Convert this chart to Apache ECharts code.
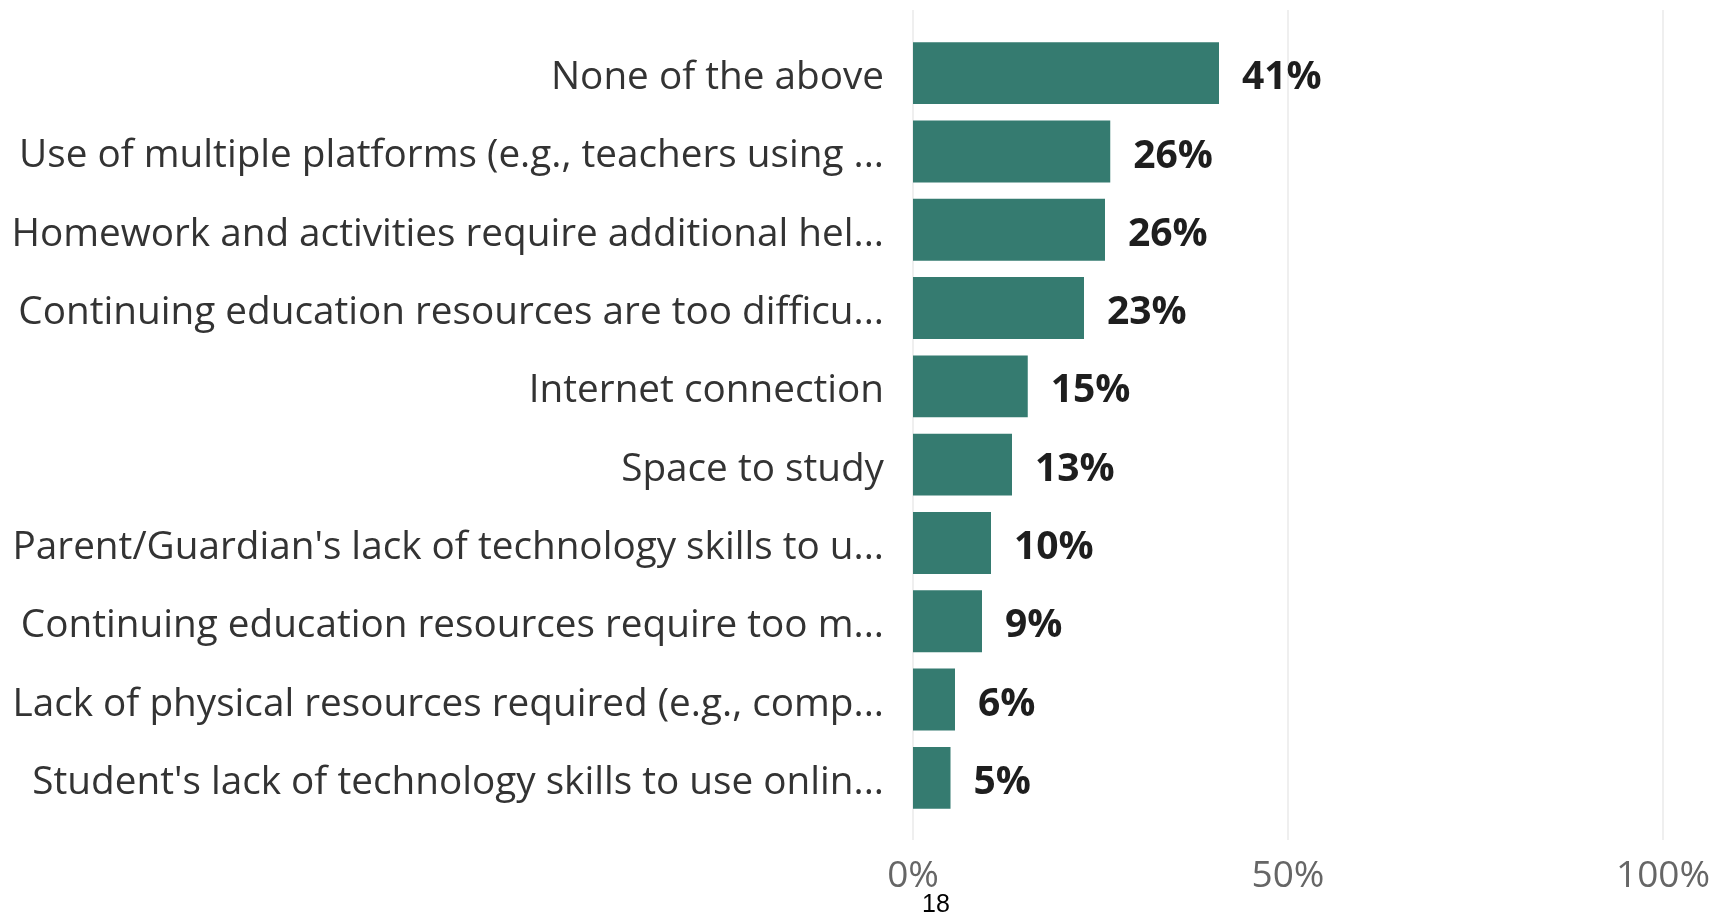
<!DOCTYPE html>
<html>
<head>
<meta charset="utf-8">
<script src="https://cdn.jsdelivr.net/npm/echarts@6/dist/echarts.min.js"></script>
<style>
html,body{margin:0;padding:0;background:#fff;}
#chart{width:1716px;height:913px;}
</style>
</head>
<body>
<div id="chart"></div>
<script>
const categories = [
  "None of the above",
  "Use of multiple platforms (e.g., teachers using ...",
  "Homework and activities require additional hel...",
  "Continuing education resources are too difficu...",
  "Internet connection",
  "Space to study",
  "Parent/Guardian's lack of technology skills to u...",
  "Continuing education resources require too m...",
  "Lack of physical resources required (e.g., comp...",
  "Student's lack of technology skills to use onlin..."
];
const values = [40.8, 26.3, 25.6, 22.8, 15.3, 13.2, 10.4, 9.2, 5.6, 5.0];
const xTicks = [0, 50, 100];
const pageNumber = "18";

const chart = echarts.init(document.getElementById('chart'), null, {renderer: 'canvas'});
const font = "'Open Sans', 'Noto Sans', sans-serif";
chart.setOption({
  animation: false,
  grid: [
    {left: 913, width: 750, top: 10, height: 830},
    {left: 913, width: 750, top: 34, height: 783}
  ],
  xAxis: [
    {
      gridIndex: 0, type: 'value', min: xTicks[0], max: xTicks[xTicks.length - 1], interval: 50,
      axisLine: {show: false}, axisTick: {show: false},
      splitLine: {show: true, lineStyle: {color: '#EFEFEF', width: 2}},
      axisLabel: {
        formatter: v => v + '%', color: '#666666', fontFamily: font, fontSize: 37, margin: 18
      }
    },
    {
      gridIndex: 1, type: 'value', min: xTicks[0], max: xTicks[xTicks.length - 1],
      show: false
    }
  ],
  yAxis: [
    {gridIndex: 0, type: 'value', show: false},
    {
      gridIndex: 1, type: 'category', data: categories, inverse: true,
      axisLine: {show: false}, axisTick: {show: false}, splitLine: {show: false},
      axisLabel: {
        margin: 29,
        formatter: v => '{c|' + v + '}',
        rich: {c: {color: '#333333', fontFamily: font, fontSize: 38.7, padding: [10, 0, 0, 0]}}
      }
    }
  ],
  series: [{
    type: 'bar', xAxisIndex: 1, yAxisIndex: 1,
    data: values, barCategoryGap: '21%',
    itemStyle: {color: '#357B70'},
    label: {
      show: true, position: 'right', distance: 23, offset: [0, 5],
      formatter: p => Math.round(p.value) + '%',
      color: '#1E1E1E', fontWeight: 'bold', fontFamily: font, fontSize: 39
    }
  }],
  graphic: [{
    type: 'text', left: 922, top: 893,
    style: {text: pageNumber, fill: '#000', font: "25px 'Liberation Sans', Arial, sans-serif"}
  }]
});
</script>
</body>
</html>
